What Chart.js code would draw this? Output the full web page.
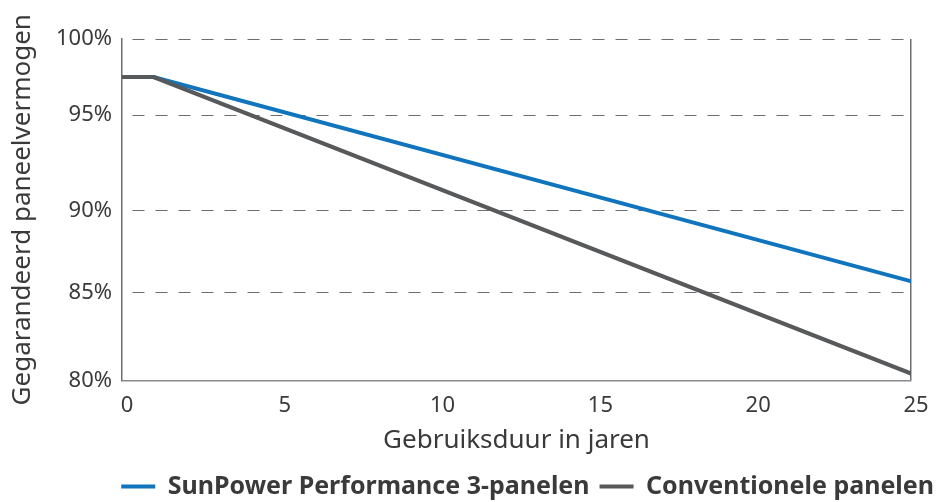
<!DOCTYPE html>
<html>
<head>
<meta charset="utf-8">
<script src="https://cdn.jsdelivr.net/npm/chart.js@4"></script>
<style>
  html, body { margin: 0; padding: 0; background: #ffffff; }
  #wrap { width: 944px; height: 502px; position: relative; }
</style>
</head>
<body>
<div id="wrap"><canvas id="c"></canvas></div>
<script>
// ---- data ----
const years = [0, 1, 25];
const sunpower = [97.5, 97.5, 85.7];
const conventional = [97.5, 97.5, 80.4];
const seriesNames = ['SunPower Performance 3-panelen', 'Conventionele panelen'];
const yTicks = [80, 85, 90, 95, 100];
const xTicks = [0, 5, 10, 15, 20, 25];
const xTitle = 'Gebruiksduur in jaren';
const yTitle = 'Gegarandeerd paneelvermogen';

// piecewise-linear value axis (the reference's grid is unevenly spaced)
class PiecewiseScale extends Chart.LinearScale {
  _toDecimal(v) {
    const s = this.options.stops;
    if (v <= s[0][0]) return s[0][1] + (v - s[0][0]) * (s[1][1] - s[0][1]) / (s[1][0] - s[0][0]);
    for (let i = 1; i < s.length; i++) {
      if (v <= s[i][0] || i === s.length - 1) {
        const a = s[i - 1], b = s[i];
        return a[1] + (v - a[0]) * (b[1] - a[1]) / (b[0] - a[0]);
      }
    }
  }
  _fromDecimal(d) {
    const s = this.options.stops;
    for (let i = 1; i < s.length; i++) {
      if (d <= s[i][1] || i === s.length - 1) {
        const a = s[i - 1], b = s[i];
        return a[0] + (d - a[1]) * (b[0] - a[0]) / (b[1] - a[1]);
      }
    }
  }
  getPixelForValue(value) {
    if (value === null || value === undefined || isNaN(value)) return NaN;
    return this.getPixelForDecimal(this._toDecimal(value));
  }
  getValueForPixel(pixel) {
    return this._fromDecimal(this.getDecimalForPixel(pixel));
  }
}
PiecewiseScale.id = 'piecewise';
PiecewiseScale.defaults = Chart.LinearScale.defaults;
Chart.register(PiecewiseScale);

const BLUE = '#1175be';
const GRAY = '#58595b';
const AXIS = '#6d6e71';
const TEXT = '#3a3a3a';
const FONT = "'Noto Sans', 'Open Sans', sans-serif";

const toPoints = (vals) => years.map((x, i) => ({ x: x, y: vals[i] }));

new Chart(document.getElementById('c'), {
  type: 'line',
  data: {
    datasets: [
      { label: seriesNames[0], data: toPoints(sunpower), borderColor: BLUE, backgroundColor: BLUE,
        borderWidth: 4, pointRadius: 0, tension: 0, order: 2, borderCapStyle: 'square' },
      { label: seriesNames[1], data: toPoints(conventional), borderColor: GRAY, backgroundColor: GRAY,
        borderWidth: 4, pointRadius: 0, tension: 0, order: 1, borderCapStyle: 'square' }
    ]
  },
  options: {
    responsive: true,
    maintainAspectRatio: false,
    animation: false,
    layout: { padding: { top: 39, right: 0, left: 0, bottom: -7 } },
    plugins: {
      tooltip: { enabled: false },
      legend: {
        position: 'bottom',
        align: 'end',
        labels: {
          color: TEXT,
          font: { family: FONT, size: 25, weight: 'bold' },
          boxWidth: 34,
          boxHeight: 4,
          padding: 10,
          sort: (a, b) => a.datasetIndex - b.datasetIndex,
          generateLabels: (chart) => chart.data.datasets.map((ds, i) => ({
            text: ds.label, fillStyle: ds.borderColor, strokeStyle: ds.borderColor,
            lineWidth: 0, hidden: false, datasetIndex: i, fontColor: TEXT
          }))
        }
      }
    },
    scales: {
      x: {
        type: 'linear',
        min: 0, max: 25,
        afterBuildTicks: (s) => { s.ticks = xTicks.map(v => ({ value: v })); },
        afterFit: (s) => { s.height = 83.5; },
        ticks: { color: TEXT, font: { family: FONT, size: 22 }, padding: 12, labelOffset: 5, maxRotation: 0 },
        grid: {
          drawTicks: false,
          color: (ctx) => (ctx.tick && ctx.tick.value === 25) ? AXIS : 'rgba(0,0,0,0)',
          lineWidth: 1.5
        },
        border: { display: true, color: '#8a8b8e', width: 1.5 },
        title: { display: true, text: xTitle, color: TEXT, font: { family: FONT, size: 26 }, padding: { top: 4, bottom: 8 } }
      },
      y: {
        type: 'piecewise',
        min: 80, max: 100,
        stops: [[80, 0], [85, 0.257], [90, 0.497], [95, 0.777], [100, 1]],
        afterBuildTicks: (s) => { s.ticks = yTicks.map(v => ({ value: v })); },
        afterFit: (s) => { s.width = 122; },
        ticks: { color: TEXT, font: { family: FONT, size: 22 }, padding: 10, callback: (v) => v + '%' },
        grid: {
          drawTicks: false,
          color: (ctx) => (ctx.tick && ctx.tick.value === 80) ? 'rgba(0,0,0,0)' : AXIS,
          lineWidth: 1
        },
        border: { display: true, color: AXIS, width: 1.5, dash: [12, 11], dashOffset: 13 },
        title: { display: true, text: yTitle, color: TEXT, font: { family: FONT, size: 26 }, padding: { top: 7, bottom: 0 } }
      },
      yRight: {
        type: 'linear',
        position: 'right',
        display: true,
        afterFit: (s) => { s.width = 33; },
        ticks: { display: false },
        grid: { display: false, drawTicks: false },
        border: { display: false }
      }
    }
  }
});
</script>
</body>
</html>
